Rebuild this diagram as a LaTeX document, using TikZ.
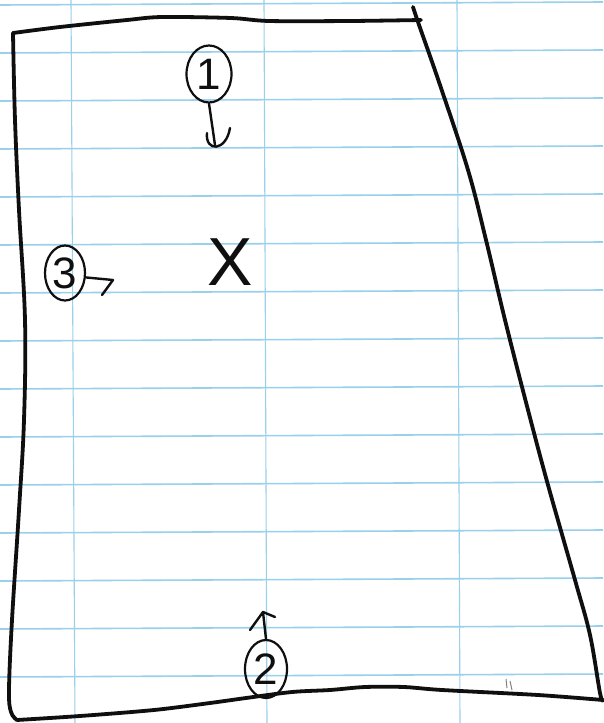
\documentclass[tikz,border=0pt]{standalone}
\usepackage{fontspec}
\setmainfont{Liberation Sans}
\usetikzlibrary{shapes.geometric}
\definecolor{gridblue}{RGB}{155,208,234}
\definecolor{ink}{RGB}{15,15,15}
\tikzset{
  gridh/.style={gridblue, line width=1.6pt},
  gridv/.style={gridblue, line width=1.1pt},
  outline/.style={ink, line width=3.8pt, line cap=round, line join=round},
  pen/.style={ink, line width=2.4pt, line cap=round, line join=round},
  circled/.style={ellipse, draw=ink, line width=2.2pt, inner sep=0pt, text=ink,
                  font=\fontsize{44}{44}\selectfont},
}
\begin{document}
\begin{tikzpicture}[x=1pt,y=-1pt]
\fill[white] (0,0) rectangle (603,723);
\useasboundingbox (0,0) rectangle (603,723);
% ruled paper
\foreach \k in {0,...,14} {
  \draw[gridh] (0,{5+48*\k}) -- (603,{2+48*\k});
}
\foreach \xa/\xb in {71/75, 264/267, 457/460} {
  \draw[gridv] (\xa,0) -- (\xb,723);
}
% outline
\draw[outline] plot[smooth] coordinates {(13,33) (60,27) (127,20) (162,17) (231,18) (269,21) (350,21) (421,20)};
\draw[outline] plot[smooth, tension=0.6] coordinates {(413,7) (418,22) (440,85) (468,170) (486,240) (505,320) (528,410) (548,485) (575,580) (590,635) (600,693) (603,700)};
\draw[outline] plot[smooth, tension=0.6] coordinates {(13,33) (15,120) (19,210) (25,320) (24,420) (19,510) (12,620) (9,690) (11,712) (17,720)};
\draw[outline] plot[smooth] coordinates {(17,720) (80,716) (154,710) (210,703) (246,698) (292,692) (330,690) (365,687) (404,687) (442,690) (538,695) (603,700)};
% labels
\node[circled, minimum width=45pt, minimum height=57pt] (c1) at (209,74) {1};
\node[circled, minimum width=40pt, minimum height=55pt] (c3) at (65,273) {3};
\node[circled, minimum width=42pt, minimum height=58pt] (c2) at (266,669) {2};
\node[text=ink, font=\fontsize{68}{68}\selectfont, inner sep=0pt] (x) at (230,262) {X};
% arrow 1 (down)
\coordinate (a1) at (215,145);
\coordinate (h1a) at (207,133);
\coordinate (h1b) at (230,128);
\draw[pen] (c1.south) -- (a1);
\draw[pen] (h1a) .. controls (205,152) and (226,152) .. (h1b);
% arrow 3 (right)
\coordinate (a3) at (113,280);
\coordinate (h3) at (102,295);
\draw[pen] (c3.-12) -- (a3) -- (h3);
% arrow 2 (up)
\coordinate (a2) at (263,612);
\coordinate (h2a) at (250,630);
\coordinate (h2b) at (275,617);
\draw[pen] (c2.north) -- (a2);
\draw[pen] (h2a) -- (a2) -- (h2b);
% small tick marks
\draw[gray, line width=1pt] (506,679) -- (507,688);
\draw[gray, line width=1pt] (510,681) -- (512,690);
\end{tikzpicture}
\end{document}
